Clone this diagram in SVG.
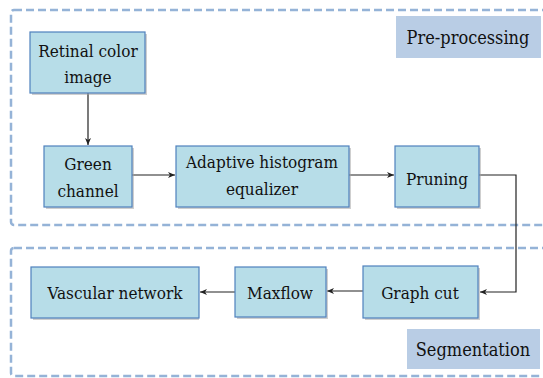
<svg xmlns="http://www.w3.org/2000/svg" width="543" height="378" viewBox="0 0 543 378">
<style>
.grp{fill:none;stroke:#95b3d7;stroke-width:2.5;stroke-dasharray:8,4}
.box{fill:#b7dde8;stroke:#4f81bd;stroke-width:1.2}
.sh{fill:#a0a0a0;opacity:0.5}
.lab{fill:#b9cde5}
.t{font-size:17px;fill:#111;text-anchor:middle}
.l{font-size:18px}
.c{fill:none;stroke:#222;stroke-width:1.2}
</style>
<defs>
<marker id="ah" markerWidth="8" markerHeight="8" refX="7" refY="4" orient="auto" markerUnits="userSpaceOnUse">
<path d="M0,1 L7,4 L0,7 L2,4 Z" fill="#222"/>
</marker>
</defs>
<rect width="543" height="378" fill="#fff"/>
<g font-family="'DejaVu Serif Condensed', 'DejaVu Serif', serif">
<g id="preprocessing-group">
<rect class="grp" x="11" y="10" width="545" height="215" rx="3"/>
<rect class="lab" x="396" y="16" width="145" height="42"/>
<text class="t l" x="468" y="44">Pre-processing</text>
</g>
<g id="segmentation-group">
<rect class="grp" x="11" y="248" width="545" height="128" rx="3"/>
<rect class="lab" x="407" y="329" width="133" height="40"/>
<text class="t l" x="473" y="356">Segmentation</text>
</g>
<g id="connectors">
<line class="c" x1="88" y1="93" x2="88" y2="145" marker-end="url(#ah)"/>
<line class="c" x1="132" y1="175" x2="175" y2="175" marker-end="url(#ah)"/>
<line class="c" x1="349" y1="175" x2="394" y2="175" marker-end="url(#ah)"/>
<polyline class="c" points="479,175 516,175 516,292 480,292" marker-end="url(#ah)"/>
<line class="c" x1="363" y1="291" x2="327" y2="291" marker-end="url(#ah)"/>
<line class="c" x1="235" y1="292" x2="200" y2="292" marker-end="url(#ah)"/>
</g>
<g id="retinal">
<rect class="sh" x="32" y="34" width="115" height="61"/>
<rect class="box" x="30" y="32" width="115" height="61"/>
<text class="t" x="88" y="57">Retinal color</text>
<text class="t" x="88" y="83">image</text>
</g>
<g id="green">
<rect class="sh" x="46" y="148" width="88" height="61"/>
<rect class="box" x="44" y="146" width="88" height="61"/>
<text class="t" x="88" y="170">Green</text>
<text class="t" x="88" y="197">channel</text>
</g>
<g id="adaptive">
<rect class="sh" x="178" y="148" width="173" height="61"/>
<rect class="box" x="176" y="146" width="173" height="61"/>
<text class="t" x="262" y="168">Adaptive histogram</text>
<text class="t" x="262" y="195">equalizer</text>
</g>
<g id="pruning">
<rect class="sh" x="397" y="148" width="84" height="61"/>
<rect class="box" x="395" y="146" width="84" height="61"/>
<text class="t" x="437" y="185">Pruning</text>
</g>
<g id="graphcut">
<rect class="sh" x="365" y="268" width="115" height="52"/>
<rect class="box" x="363" y="266" width="115" height="52"/>
<text class="t" x="420" y="299">Graph cut</text>
</g>
<g id="maxflow">
<rect class="sh" x="237" y="269" width="91" height="50"/>
<rect class="box" x="235" y="267" width="91" height="50"/>
<text class="t" x="280" y="299">Maxflow</text>
</g>
<g id="vascular">
<rect class="sh" x="33" y="269" width="166" height="51"/>
<rect class="box" x="31" y="267" width="168" height="51"/>
<text class="t" x="115" y="299">Vascular network</text>
</g>
</g>
</svg>
